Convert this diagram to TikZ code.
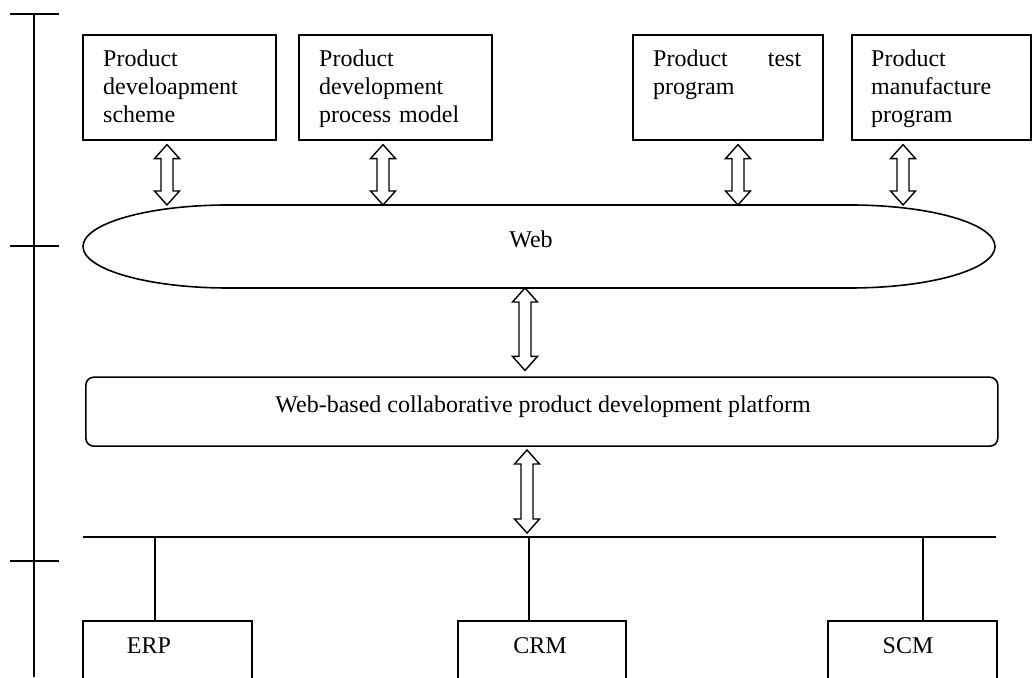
\documentclass[tikz,border=0pt]{standalone}
\usepackage{fontspec}
\setmainfont{Liberation Serif}
\usetikzlibrary{calc}
\newcommand{\dblarrow}[2]{%
  \draw[dblarr] let \p1=#1, \p2=#2 in
    (\x1,\y1) -- (\x1+12.5pt,\y1-14pt) -- (\x1+6pt,\y1-14pt) -- (\x1+6pt,\y2+14pt)
    -- (\x1+12.5pt,\y2+14pt) -- (\x1,\y2) -- (\x1-12.5pt,\y2+14pt) -- (\x1-6pt,\y2+14pt)
    -- (\x1-6pt,\y1-14pt) -- (\x1-12.5pt,\y1-14pt) -- cycle;}
\begin{document}
\begin{tikzpicture}[x=1pt,y=1pt,
  topbox/.style={draw,line width=1.6pt,rectangle,inner sep=0pt,anchor=north west,minimum height=105pt},
  botbox/.style={draw,line width=1.6pt,rectangle,inner sep=0pt,anchor=north west,minimum height=90pt},
  lbl/.style={inner sep=0pt,font=\fontsize{24}{28}\selectfont},
  boxtext/.style={lbl,anchor=base west,align=left},
  thinline/.style={line width=1.4pt},
  dblarr/.style={draw,line width=1.4pt,fill=white,line join=miter}]
\clip (0,0) rectangle (1032,677);
\fill[white] (0,0) rectangle (1032,677);

% left axis
\coordinate (axT) at (34,663);
\coordinate (axB) at (34,0);
\draw[thinline] (axT) -- (axB);
\foreach \yy/\nm in {663/t1,431/t2,116/t3}{
  \coordinate (\nm L) at (10,\yy);
  \coordinate (\nm R) at (59,\yy);
  \draw[thinline] (\nm L) -- (\nm R);
}

% top boxes
\node[topbox,minimum width=193pt] (b1) at (82,643) {};
\node[topbox,minimum width=193pt] (b2) at (298,643) {};
\node[topbox,minimum width=190pt] (b3) at (632,643) {};
\node[topbox,minimum width=179pt] (b4) at (851,643) {};
\node[boxtext,text width=151pt] (t1) at ($(b1.north west)+(21,-33)$) {Product\\develoapment\\scheme};
\node[boxtext,text width=151pt] (t2) at ($(b2.north west)+(21,-33)$) {Product\\development\\process model};
\node[boxtext,text width=148pt] (t3) at ($(b3.north west)+(21,-33)$) {Product\hspace{\fill}test\\program};
\node[boxtext,text width=150pt] (t4) at ($(b4.north west)+(20,-33)$) {Product\\manufacture\\program};

% web
\coordinate (webN) at (531,472);
\coordinate (webS) at (531,389);
\draw[line width=1.6pt] (228,472) -- (850,472)
  arc[start angle=90,end angle=-90,x radius=145,y radius=41.5]
  -- (228,389)
  arc[start angle=270,end angle=90,x radius=145,y radius=41.5] -- cycle;
\node[lbl,anchor=base] (web) at (531,429) {Web};

% arrows top boxes -> web
\coordinate (a1) at (167,0);
\coordinate (a2) at (383,0);
\coordinate (a3) at (738,0);
\coordinate (a4) at (903,0);
\dblarrow{($(a1 |- b1.south)+(0,-4)$)}{(a1 |- webN)}
\dblarrow{($(a2 |- b2.south)+(0,-4)$)}{(a2 |- webN)}
\dblarrow{($(a3 |- b3.south)+(0,-4)$)}{(a3 |- webN)}
\dblarrow{($(a4 |- b4.south)+(0,-4)$)}{(a4 |- webN)}

% platform
\node[draw,line width=1.6pt,rounded corners=8pt,inner sep=0pt,anchor=south west,
  minimum width=912pt,minimum height=69pt] (plat) at (85,230) {};
\node[lbl,anchor=base] (plattext) at (543,264) {Web-based collaborative product development platform};

\coordinate (a5) at (525,0);
\dblarrow{(a5 |- webS)}{($(a5 |- plat.north)+(0,6)$)}

% bus
\coordinate (busL) at (83,140);
\coordinate (busR) at (996,140);
\draw[line width=1.6pt] (busL) -- (busR);
\coordinate (a6) at (527,0);
\dblarrow{($(a6 |- plat.south)+(0,-3)$)}{($(a6 |- busL)+(0,4)$)}

% bottom boxes
\node[botbox,minimum width=169pt] (erp) at (82,57) {};
\node[botbox,minimum width=168pt] (crm) at (457,57) {};
\node[botbox,minimum width=169pt] (scm) at (827,57) {};
\node[lbl,anchor=base] (erpt) at (149,24) {ERP};
\node[lbl,anchor=base] (crmt) at (540,24) {CRM};
\node[lbl,anchor=base] (scmt) at (908,24) {SCM};

\coordinate (d1) at (155,140);
\coordinate (d2) at (529,140);
\coordinate (d3) at (923,140);
\draw[thinline] (d1) -- (d1 |- erp.north);
\draw[thinline] (d2) -- (d2 |- crm.north);
\draw[thinline] (d3) -- (d3 |- scm.north);
\end{tikzpicture}
\end{document}
